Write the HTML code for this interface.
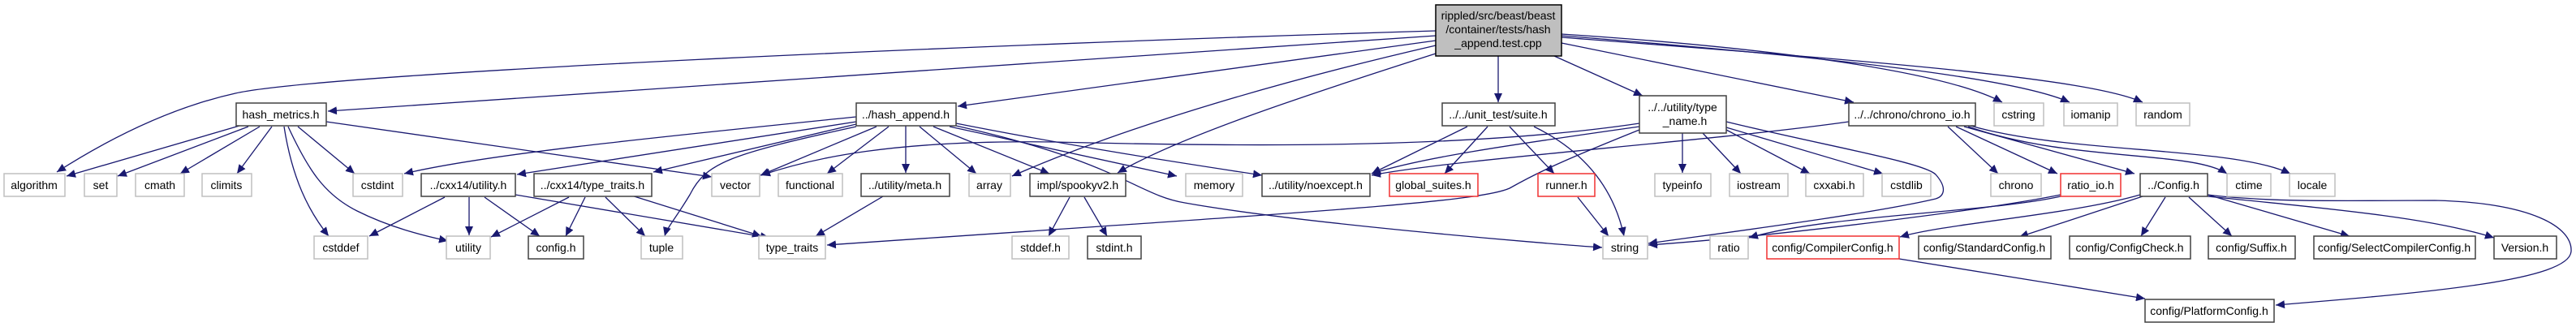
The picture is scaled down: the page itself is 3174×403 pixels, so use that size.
<!DOCTYPE html>
<html><head><meta charset="utf-8"><style>
html,body{margin:0;padding:0;background:#fff;}
svg{display:block;}
text{font-family:"Liberation Sans",sans-serif;font-size:14px;fill:#000;}
.e{fill:none;stroke:#191970;stroke-width:1.3;marker-end:url(#a);}
.g{fill:#fff;stroke:#bfbfbf;stroke-width:1.5;}
.b{fill:#fff;stroke:#404040;stroke-width:1.5;}
.r{fill:#fff;stroke:#f03030;stroke-width:1.5;}
</style></head><body>
<svg width="3174" height="403" viewBox="0 0 3174 403" xmlns="http://www.w3.org/2000/svg">
<defs><marker id="a" markerUnits="userSpaceOnUse" markerWidth="12" markerHeight="10" refX="11" refY="5" orient="auto"><path d="M0,0 L11,5 L0,10 z" fill="#191970"/></marker></defs>
<!-- edges from main -->
<path class="e" d="M1769,38 C1200,55 400,90 290,115 C200,135 120,180 70,212"/>
<path class="e" d="M1769,44 L404,137"/>
<path class="e" d="M1769,50 L1180,131"/>
<path class="e" d="M1769,56 C1600,95 1400,150 1247,217"/>
<path class="e" d="M1769,66 C1600,120 1450,170 1377,213"/>
<path class="e" d="M1846,69 L1846,126"/>
<path class="e" d="M1915,69 L2024,118"/>
<path class="e" d="M1924,53 L2284,126"/>
<path class="e" d="M1924,42 C2200,60 2400,90 2467,126"/>
<path class="e" d="M1924,44 C2250,70 2480,95 2550,126"/>
<path class="e" d="M1924,46 C2300,75 2570,95 2640,126"/>
<!-- hash_metrics -->
<path class="e" d="M295,155 L82,217"/>
<path class="e" d="M306,156 L145,217"/>
<path class="e" d="M320,156 L222,214"/>
<path class="e" d="M335,156 L292,214"/>
<path class="e" d="M350,156 C360,220 380,260 405,291"/>
<path class="e" d="M355,156 C380,210 400,240 440,260 C480,280 520,290 552,297"/>
<path class="e" d="M367,156 L437,214"/>
<path class="e" d="M402,150 L877,218"/>
<!-- hash_append -->
<path class="e" d="M1055,144 C800,170 600,190 498,214"/>
<path class="e" d="M1055,150 L637,215"/>
<path class="e" d="M1055,153 L805,212"/>
<path class="e" d="M1055,156 C900,190 870,200 850,240 C832,270 822,280 819,291"/>
<path class="e" d="M1080,156 L937,216"/>
<path class="e" d="M1095,156 L1019,214"/>
<path class="e" d="M1116,155 L1116,213"/>
<path class="e" d="M1133,156 L1203,214"/>
<path class="e" d="M1150,156 L1293,214"/>
<path class="e" d="M1170,156 L1450,217"/>
<path class="e" d="M1178,152 C1320,180 1450,200 1555,216"/>
<path class="e" d="M1178,155 C1380,200 1400,240 1460,250 C1600,275 1900,300 1974,305"/>
<path class="e" d="M1088,242 L1005,291"/>
<path class="e" d="M1318,243 L1292,291"/>
<path class="e" d="M1336,243 L1364,291"/>
<!-- cxx14 -->
<path class="e" d="M548,243 L455,291"/>
<path class="e" d="M578,243 L578,290"/>
<path class="e" d="M597,243 L665,291"/>
<path class="e" d="M635,240 L948,293"/>
<path class="e" d="M701,243 L605,292"/>
<path class="e" d="M721,243 L697,291"/>
<path class="e" d="M746,243 L795,291"/>
<path class="e" d="M775,240 L938,291"/>
<!-- suite -->
<path class="e" d="M1808,156 L1690,214"/>
<path class="e" d="M1833,156 L1780,214"/>
<path class="e" d="M1860,156 L1915,214"/>
<path class="e" d="M1890,156 C1960,190 1990,240 2001,291"/>
<path class="e" d="M1944,243 L1982,291"/>
<!-- type_name -->
<path class="e" d="M2020,160 C1920,200 1890,215 1860,232 C1820,250 1600,262 1019,302"/>
<path class="e" d="M2020,152 C1800,185 1500,180 1300,175 C1100,172 1000,195 938,216"/>
<path class="e" d="M2020,156 C1850,180 1750,195 1690,214"/>
<path class="e" d="M2073,164 L2073,213"/>
<path class="e" d="M2098,164 L2145,214"/>
<path class="e" d="M2127,160 L2230,214"/>
<path class="e" d="M2127,157 L2320,214"/>
<path class="e" d="M2127,150 C2250,180 2370,200 2385,215 C2400,232 2395,242 2385,245 C2300,265 2100,290 2031,300"/>
<!-- chrono_io -->
<path class="e" d="M2278,150 C2100,175 1800,195 1690,216"/>
<path class="e" d="M2400,156 L2462,214"/>
<path class="e" d="M2410,156 L2535,214"/>
<path class="e" d="M2420,156 L2630,214"/>
<path class="e" d="M2425,156 C2550,200 2700,185 2744,214"/>
<path class="e" d="M2428,155 C2550,190 2750,180 2822,214"/>
<path class="e" d="M2539,240 C2450,258 2200,290 2031,302"/>
<path class="e" d="M2539,242 C2450,262 2250,265 2155,293"/>
<!-- Config.h -->
<path class="e" d="M2637,240 C2550,265 2400,275 2341,292"/>
<path class="e" d="M2640,242 L2488,292"/>
<path class="e" d="M2668,243 L2638,291"/>
<path class="e" d="M2697,243 L2750,291"/>
<path class="e" d="M2720,240 L2895,291"/>
<path class="e" d="M2720,242 C2900,260 3000,270 3073,293"/>
<path class="e" d="M2720,240 C2800,250 2900,247 3000,247 C3120,250 3170,280 3168,310 C3165,345 3000,360 2804,376"/>
<path class="e" d="M2340,319 L2643,368"/>
<!-- nodes -->
<rect x="1769" y="6" width="155" height="63" fill="#bfbfbf" stroke="#000" stroke-width="1.5"/>
<text x="1846" y="24" text-anchor="middle">rippled/src/beast/beast</text>
<text x="1846" y="41" text-anchor="middle">/container/tests/hash</text>
<text x="1846" y="58" text-anchor="middle">_append.test.cpp</text>

<rect class="b" x="291" y="127" width="111" height="28"/><text x="346" y="146" text-anchor="middle">hash_metrics.h</text>
<rect class="b" x="1055" y="127" width="123" height="28"/><text x="1116" y="146" text-anchor="middle">../hash_append.h</text>
<rect class="b" x="1777" y="127" width="139" height="28"/><text x="1846" y="146" text-anchor="middle">../../unit_test/suite.h</text>
<rect class="b" x="2020" y="118" width="107" height="46"/><text x="2073" y="137" text-anchor="middle">../../utility/type</text><text x="2076" y="154" text-anchor="middle">_name.h</text>
<rect class="b" x="2278" y="127" width="156" height="28"/><text x="2356" y="146" text-anchor="middle">../../chrono/chrono_io.h</text>
<rect class="g" x="2457" y="127" width="61" height="28"/><text x="2487" y="146" text-anchor="middle">cstring</text>
<rect class="g" x="2543" y="127" width="66" height="28"/><text x="2576" y="146" text-anchor="middle">iomanip</text>
<rect class="g" x="2632" y="127" width="66" height="28"/><text x="2665" y="146" text-anchor="middle">random</text>

<rect class="g" x="5" y="214" width="75" height="28"/><text x="42" y="233" text-anchor="middle">algorithm</text>
<rect class="g" x="104" y="214" width="40" height="28"/><text x="124" y="233" text-anchor="middle">set</text>
<rect class="g" x="167" y="214" width="60" height="28"/><text x="197" y="233" text-anchor="middle">cmath</text>
<rect class="g" x="249" y="214" width="61" height="28"/><text x="279" y="233" text-anchor="middle">climits</text>
<rect class="g" x="435" y="214" width="61" height="28"/><text x="465" y="233" text-anchor="middle">cstdint</text>
<rect class="b" x="519" y="214" width="116" height="28"/><text x="577" y="233" text-anchor="middle">../cxx14/utility.h</text>
<rect class="b" x="658" y="214" width="145" height="28"/><text x="730" y="233" text-anchor="middle">../cxx14/type_traits.h</text>
<rect class="g" x="877" y="214" width="59" height="28"/><text x="906" y="233" text-anchor="middle">vector</text>
<rect class="g" x="959" y="214" width="79" height="28"/><text x="998" y="233" text-anchor="middle">functional</text>
<rect class="b" x="1061" y="214" width="109" height="28"/><text x="1115" y="233" text-anchor="middle">../utility/meta.h</text>
<rect class="g" x="1194" y="214" width="51" height="28"/><text x="1219" y="233" text-anchor="middle">array</text>
<rect class="b" x="1269" y="214" width="118" height="28"/><text x="1328" y="233" text-anchor="middle">impl/spookyv2.h</text>
<rect class="g" x="1461" y="214" width="70" height="28"/><text x="1496" y="233" text-anchor="middle">memory</text>
<rect class="b" x="1555" y="214" width="133" height="28"/><text x="1621" y="233" text-anchor="middle">../utility/noexcept.h</text>
<rect class="r" x="1712" y="214" width="109" height="28"/><text x="1766" y="233" text-anchor="middle">global_suites.h</text>
<rect class="r" x="1895" y="214" width="70" height="28"/><text x="1930" y="233" text-anchor="middle">runner.h</text>
<rect class="g" x="2039" y="214" width="69" height="28"/><text x="2073" y="233" text-anchor="middle">typeinfo</text>
<rect class="g" x="2131" y="214" width="72" height="28"/><text x="2167" y="233" text-anchor="middle">iostream</text>
<rect class="g" x="2225" y="214" width="71" height="28"/><text x="2260" y="233" text-anchor="middle">cxxabi.h</text>
<rect class="g" x="2319" y="214" width="60" height="28"/><text x="2349" y="233" text-anchor="middle">cstdlib</text>
<rect class="g" x="2453" y="214" width="62" height="28"/><text x="2484" y="233" text-anchor="middle">chrono</text>
<rect class="r" x="2539" y="214" width="74" height="28"/><text x="2576" y="233" text-anchor="middle">ratio_io.h</text>
<rect class="b" x="2637" y="214" width="83" height="28"/><text x="2678" y="233" text-anchor="middle">../Config.h</text>
<rect class="g" x="2744" y="214" width="54" height="28"/><text x="2771" y="233" text-anchor="middle">ctime</text>
<rect class="g" x="2821" y="214" width="56" height="28"/><text x="2849" y="233" text-anchor="middle">locale</text>

<rect class="g" x="387" y="291" width="66" height="28"/><text x="420" y="310" text-anchor="middle">cstddef</text>
<rect class="g" x="550" y="291" width="54" height="28"/><text x="577" y="310" text-anchor="middle">utility</text>
<rect class="b" x="651" y="291" width="68" height="28"/><text x="685" y="310" text-anchor="middle">config.h</text>
<rect class="g" x="790" y="291" width="51" height="28"/><text x="815" y="310" text-anchor="middle">tuple</text>
<rect class="g" x="935" y="291" width="82" height="28"/><text x="976" y="310" text-anchor="middle">type_traits</text>
<rect class="g" x="1247" y="291" width="70" height="28"/><text x="1282" y="310" text-anchor="middle">stddef.h</text>
<rect class="b" x="1340" y="291" width="66" height="28"/><text x="1373" y="310" text-anchor="middle">stdint.h</text>
<rect class="g" x="1975" y="291" width="55" height="28"/><text x="2002" y="310" text-anchor="middle">string</text>
<rect class="g" x="2107" y="291" width="47" height="28"/><text x="2130" y="310" text-anchor="middle">ratio</text>
<rect class="r" x="2177" y="291" width="163" height="28"/><text x="2258" y="310" text-anchor="middle">config/CompilerConfig.h</text>
<rect class="b" x="2364" y="291" width="163" height="28"/><text x="2445" y="310" text-anchor="middle">config/StandardConfig.h</text>
<rect class="b" x="2550" y="291" width="149" height="28"/><text x="2624" y="310" text-anchor="middle">config/ConfigCheck.h</text>
<rect class="b" x="2721" y="291" width="107" height="28"/><text x="2774" y="310" text-anchor="middle">config/Suffix.h</text>
<rect class="b" x="2851" y="291" width="199" height="28"/><text x="2950" y="310" text-anchor="middle">config/SelectCompilerConfig.h</text>
<rect class="b" x="3073" y="291" width="77" height="28"/><text x="3111" y="310" text-anchor="middle">Version.h</text>
<rect class="b" x="2643" y="369" width="159" height="28"/><text x="2722" y="388" text-anchor="middle">config/PlatformConfig.h</text>
</svg>
</body></html>
